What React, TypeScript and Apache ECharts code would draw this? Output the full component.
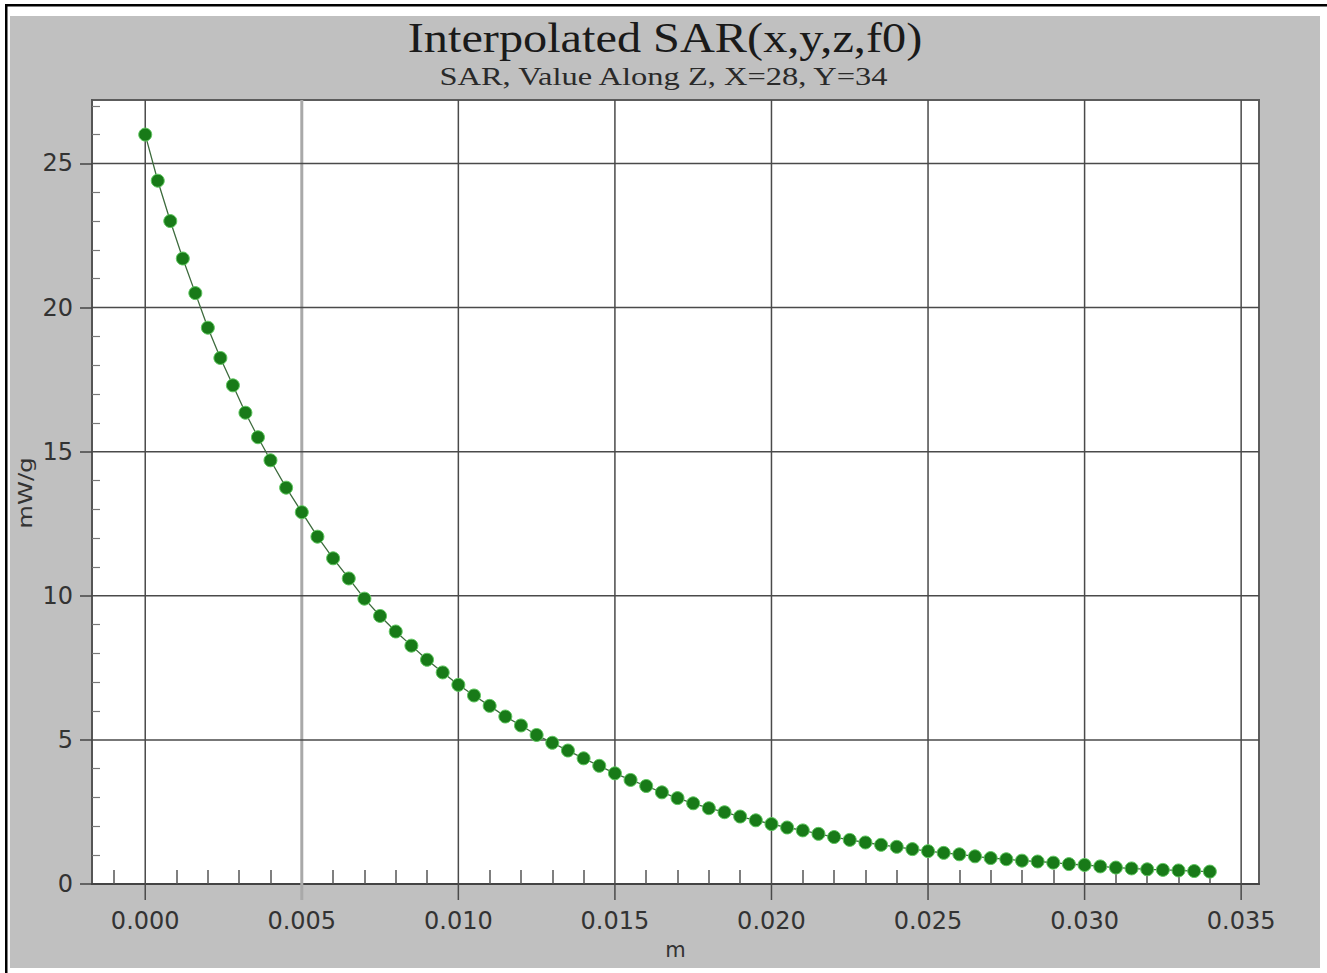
import React, { useEffect, useRef } from "react";
import * as echarts from "echarts";

// Distance along Z (m)
const depthValues = [
  0, 0.0004, 0.0008, 0.0012, 0.0016, 0.002, 0.0024, 0.0028, 0.0032, 0.0036, 0.004,
  0.0045, 0.005, 0.0055, 0.006, 0.0065, 0.007, 0.0075, 0.008, 0.0085, 0.009, 0.0095,
  0.01, 0.0105, 0.011, 0.0115, 0.012, 0.0125, 0.013, 0.0135, 0.014, 0.0145, 0.015,
  0.0155, 0.016, 0.0165, 0.017, 0.0175, 0.018, 0.0185, 0.019, 0.0195, 0.02, 0.0205,
  0.021, 0.0215, 0.022, 0.0225, 0.023, 0.0235, 0.024, 0.0245, 0.025, 0.0255, 0.026,
  0.0265, 0.027, 0.0275, 0.028, 0.0285, 0.029, 0.0295, 0.03, 0.0305, 0.031, 0.0315,
  0.032, 0.0325, 0.033, 0.0335, 0.034,
];

// SAR (mW/g)
const sarValues = [
  26.0, 24.4, 23.0, 21.7, 20.5, 19.3, 18.25, 17.3, 16.35, 15.5, 14.7,
  13.75, 12.9, 12.05, 11.3, 10.6, 9.9, 9.3, 8.76, 8.27, 7.78, 7.34,
  6.91, 6.54, 6.18, 5.81, 5.5, 5.17, 4.9, 4.63, 4.36, 4.1, 3.84,
  3.61, 3.4, 3.18, 2.98, 2.8, 2.63, 2.49, 2.34, 2.21, 2.08, 1.96,
  1.86, 1.74, 1.63, 1.53, 1.44, 1.36, 1.29, 1.21, 1.14, 1.08, 1.03,
  0.96, 0.9, 0.86, 0.81, 0.78, 0.74, 0.69, 0.66, 0.61, 0.57, 0.54,
  0.51, 0.49, 0.47, 0.45, 0.43,
];

const xMajorTicks = [0, 0.005, 0.01, 0.015, 0.02, 0.025, 0.03, 0.035];
const xMinorTicks = [
  -0.001, 0.001, 0.002, 0.003, 0.004, 0.006, 0.007, 0.008, 0.009, 0.011, 0.012, 0.013,
  0.014, 0.016, 0.017, 0.018, 0.019, 0.021, 0.022, 0.023, 0.024, 0.026, 0.027, 0.028,
  0.029, 0.031, 0.032, 0.033, 0.034,
];
const yMajorTicks = [0, 5, 10, 15, 20, 25];
const yMinorTicks = [
  1, 2, 3, 4, 6, 7, 8, 9, 11, 12, 13, 14, 16, 17, 18, 19, 21, 22, 23, 24, 26, 27,
];

const titleText = "Interpolated SAR(x,y,z,f0)";
const subtitleText = "SAR, Value Along Z, X=28, Y=34";
const xName = "m";
const yName = "mW/g";

const X_MIN = -0.0017;
const X_MAX = 0.03557;
const Y_MIN = 0;
const Y_MAX = 27.2;
// major x ticks continue the vertical grid lines 16px below the axis (784px = 27.2 units)
const X_TICK_BELOW = (16 / 784) * (Y_MAX - Y_MIN);

export default function App() {
  const ref = useRef<HTMLDivElement>(null);

  useEffect(() => {
    if (!ref.current) return;
    const chart = echarts.init(ref.current, null, { renderer: "svg" });

    const gridSeries: any[] = [];
    xMajorTicks.forEach((v) => {
      const light = v === 0.005;
      gridSeries.push({
        type: "line",
        silent: true,
        z: 1,
        symbol: "none",
        clip: false,
        data: [
          [v, Y_MIN - X_TICK_BELOW],
          [v, Y_MAX],
        ],
        lineStyle: light
          ? { color: "#a9a9a9", width: 3 }
          : { color: "#4a4a4a", width: 1.5 },
        emphasis: { disabled: true },
      });
    });
    yMajorTicks.forEach((v) => {
      if (v === 0) return;
      gridSeries.push({
        type: "line",
        silent: true,
        z: 1,
        symbol: "none",
        clip: false,
        data: [
          [X_MIN, v],
          [X_MAX, v],
        ],
        lineStyle: { color: "#4a4a4a", width: 1.5 },
        emphasis: { disabled: true },
      });
    });

    const labelFont = {
      fontFamily: "DejaVu Sans",
      fontSize: 24,
      color: "#333",
    };

    chart.setOption({
      animation: false,
      backgroundColor: "#c0c0c0",
      grid: {
        left: 92,
        top: 100,
        width: 1167,
        height: 784,
        show: true,
        backgroundColor: "#fff",
        borderColor: "#5c5c5c",
        borderWidth: 2,
        containLabel: false,
        outerBoundsMode: "none",
      },
      xAxis: [
        {
          type: "value",
          min: X_MIN,
          max: X_MAX,
          position: "bottom",
          name: xName,
          nameLocation: "middle",
          nameGap: 55,
          nameTextStyle: { fontFamily: "DejaVu Sans", fontSize: 21, color: "#333" },
          axisLine: { show: true, onZero: false, lineStyle: { color: "#444", width: 2 } },
          axisTick: { show: false },
          axisLabel: {
            show: true,
            customValues: xMajorTicks,
            margin: 25,
            formatter: (v: number) => v.toFixed(3),
            ...labelFont,
          },
          splitLine: { show: false },
        },
        {
          type: "value",
          min: X_MIN,
          max: X_MAX,
          position: "bottom",
          axisLine: { show: false, onZero: false },
          axisTick: {
            show: true,
            customValues: xMinorTicks,
            inside: true,
            length: 14,
            lineStyle: { color: "#555", width: 1.5 },
          },
          axisLabel: { show: false },
          splitLine: { show: false },
        },
      ],
      yAxis: [
        {
          type: "value",
          min: Y_MIN,
          max: Y_MAX,
          position: "left",
          axisLine: { show: true, onZero: false, lineStyle: { color: "#555", width: 2 } },
          axisTick: {
            show: true,
            customValues: yMajorTicks,
            inside: false,
            length: 12,
            lineStyle: { color: "#444", width: 1.5 },
          },
          axisLabel: {
            show: true,
            customValues: yMajorTicks,
            margin: 19,
            ...labelFont,
          },
          splitLine: { show: false },
        },
        {
          type: "value",
          min: Y_MIN,
          max: Y_MAX,
          position: "left",
          axisLine: { show: false, onZero: false },
          axisTick: {
            show: true,
            customValues: yMinorTicks,
            inside: true,
            length: 8,
            lineStyle: { color: "#777", width: 1.2 },
          },
          axisLabel: { show: false },
          splitLine: { show: false },
        },
      ],
      graphic: [
        { type: "rect", shape: { x: 0, y: 0, width: 1327, height: 16 }, style: { fill: "#fff" }, silent: true },
        { type: "rect", shape: { x: 0, y: 0, width: 10, height: 973 }, style: { fill: "#fff" }, silent: true },
        { type: "rect", shape: { x: 1320, y: 0, width: 7, height: 973 }, style: { fill: "#fff" }, silent: true },
        { type: "rect", shape: { x: 0, y: 968, width: 1327, height: 5 }, style: { fill: "#fff" }, silent: true },
        { type: "rect", shape: { x: 5, y: 4, width: 1322, height: 2.5 }, style: { fill: "#000" }, silent: true },
        { type: "rect", shape: { x: 5, y: 4, width: 2.5, height: 969 }, style: { fill: "#000" }, silent: true },
        {
          type: "text",
          x: 665,
          y: 38.5,
          scaleX: 1.15,
          silent: true,
          style: {
            text: titleText,
            fontFamily: "Liberation Serif",
            fontSize: 42,
            fill: "#1a1a1a",
            textAlign: "center",
            textVerticalAlign: "middle",
          },
        },
        {
          type: "text",
          x: 663.5,
          y: 76,
          scaleX: 1.3,
          silent: true,
          style: {
            text: subtitleText,
            fontFamily: "Liberation Serif",
            fontSize: 25,
            fill: "#2a2a2a",
            textAlign: "center",
            textVerticalAlign: "middle",
          },
        },
        {
          type: "text",
          x: 25,
          y: 493,
          rotation: Math.PI / 2,
          scaleX: 1.28,
          silent: true,
          style: {
            text: yName,
            fontFamily: "DejaVu Sans",
            fontSize: 19,
            fill: "#333",
            textAlign: "center",
            textVerticalAlign: "middle",
          },
        },
      ],
      series: [
        ...gridSeries,
        {
          type: "line",
          z: 5,
          data: depthValues.map((x, i) => [x, sarValues[i]]),
          symbol: "circle",
          symbolSize: 13,
          showSymbol: true,
          itemStyle: { color: "#187a18", borderColor: "#5fc85f", borderWidth: 1 },
          lineStyle: { color: "#3d6b3d", width: 1.3 },
          emphasis: { disabled: true },
        },
      ],
    });

    return () => chart.dispose();
  }, []);

  return (
    <div
      ref={ref}
      style={{ position: "fixed", left: 0, top: 0, width: 1327, height: 973 }}
    />
  );
}
